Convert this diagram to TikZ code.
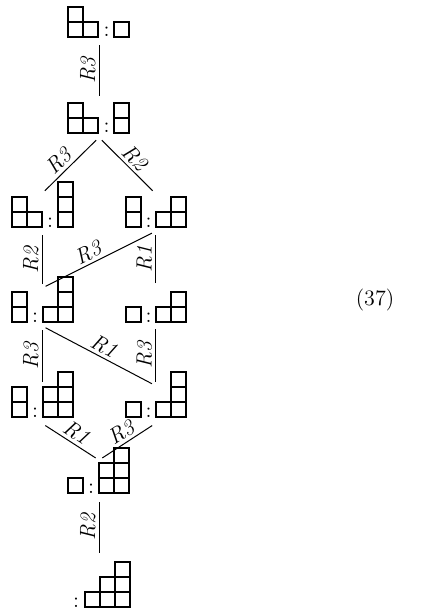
\documentclass[tikz,border=0pt]{standalone}
\usepackage{tikz}
\usetikzlibrary{calc}

\tikzset{
  cell/.style={draw, line width=0.55pt},
  state/.style={minimum width=0pt, minimum height=18.5pt, inner sep=0pt},
  edge/.style={line width=0.5pt, shorten <=2pt, shorten >=2pt},
  slab/.style={sloped, above, inner sep=1.5pt, font=\fontsize{11}{13}\selectfont\itshape},
  vlab/.style={rotate=90, anchor=south, inner sep=1.5pt, font=\fontsize{11}{13}\selectfont\itshape},
  sep/.style={anchor=base, inner sep=0pt, font=\fontsize{11}{13}\selectfont},
}

% diagramma allineato a sinistra, angolo in basso a sinistra (#1,#2)
\newcommand{\ydleft}[3]{%
  \foreach \len [count=\row from 0] in {#3}
    \foreach \col in {1,...,\len}
      \draw[cell] ({#1+15*(\col-1)},{#2-15*\row}) rectangle ++(15,-15);
}
% diagramma allineato a destra, angolo in basso a destra (#1,#2)
\newcommand{\ydright}[3]{%
  \foreach \len [count=\row from 0] in {#3}
    \foreach \col in {1,...,\len}
      \draw[cell] ({#1-15*\col},{#2-15*\row}) rectangle ++(15,-15);
}

\begin{document}
\begin{tikzpicture}[x=0.5pt, y=-0.5pt]
  \useasboundingbox (0,0) rectangle (435,610);

  % Stati (per i collegamenti)
  \node[state] (a) at (99,22.5)    {};
  \node[state] (b) at (99,118.5)   {};
  \node[state] (c) at (42,212.5)   {};
  \node[state] (d) at (155.5,212.5) {};
  \node[state] (e) at (42,307)     {};
  \node[state] (f) at (155.5,306)  {};
  \node[state] (g) at (42,404.5)   {};
  \node[state] (h) at (155.5,404.5) {};
  \node[state] (i) at (99,479)     {};
  \node[state] (j) at (99,575.5)   {};

  % Riga 1
  \ydleft{68}{37}{2,1}
  \node[sep] (ka) at (106.5,37) {:};
  \ydleft{114}{37}{1}

  % Riga 2
  \ydleft{68}{133}{2,1}
  \node[sep] (kb) at (106.5,133) {:};
  \ydleft{114}{133}{1,1}

  % Riga 3
  \ydleft{12}{227}{2,1}
  \node[sep] (kc) at (50,227) {:};
  \ydleft{58}{227}{1,1,1}
  \ydleft{126}{227}{1,1}
  \node[sep] (kd) at (148.5,227) {:};
  \ydright{186}{227}{2,1}

  % Riga 4
  \ydleft{12}{322}{1,1}
  \node[sep] (ke) at (35,322) {:};
  \ydright{73}{322}{2,1,1}
  \ydleft{126}{322}{1}
  \node[sep] (kf) at (148.5,322) {:};
  \ydright{186}{322}{2,1}

  % Riga 5
  \ydleft{12}{417}{1,1}
  \node[sep] (kg) at (35,417) {:};
  \ydright{73}{417}{2,2,1}
  \ydleft{126}{417}{1}
  \node[sep] (kh) at (148.5,417) {:};
  \ydright{186}{417}{2,1,1}

  % Riga 6
  \ydleft{68}{493}{1}
  \node[sep] (ki) at (91,493) {:};
  \ydright{129}{493}{2,2,1}

  % Riga 7
  \node[sep] (kj) at (76,607) {:};
  \ydright{130}{607}{3,2,1}

  % Collegamenti verticali
  \draw[edge] (b.north) -- (a.south) node[vlab, midway] {R3};
  \draw[edge] (e.north) -- (c.south) node[vlab, midway] {R2};
  \draw[edge] (f.north) -- (d.south) node[vlab, midway] {R1};
  \draw[edge] (g.north) -- (e.south) node[vlab, midway] {R3};
  \draw[edge] (h.north) -- (f.south) node[vlab, midway] {R3};
  \draw[edge] (j.north) -- (i.south) node[vlab, midway] {R2};

  % Collegamenti obliqui
  \draw[edge] (b.south) -- (c.north) node[slab, pos=0.56] {R3};
  \draw[edge] (b.south) -- (d.north) node[slab, midway] {R2};
  \draw[edge] (e.north) -- (d.south) node[slab, pos=0.45] {R3};
  \draw[edge] (e.south) -- (h.north) node[slab, midway] {R1};
  \draw[edge] (g.south) -- (i.north) node[slab, midway] {R1};
  \draw[edge] (h.south) -- (i.north) node[slab, midway] {R3};

  % Numero dell'equazione
  \node[font=\fontsize{11}{13}\selectfont] (num) at (375,300) {(37)};
\end{tikzpicture}
\end{document}
